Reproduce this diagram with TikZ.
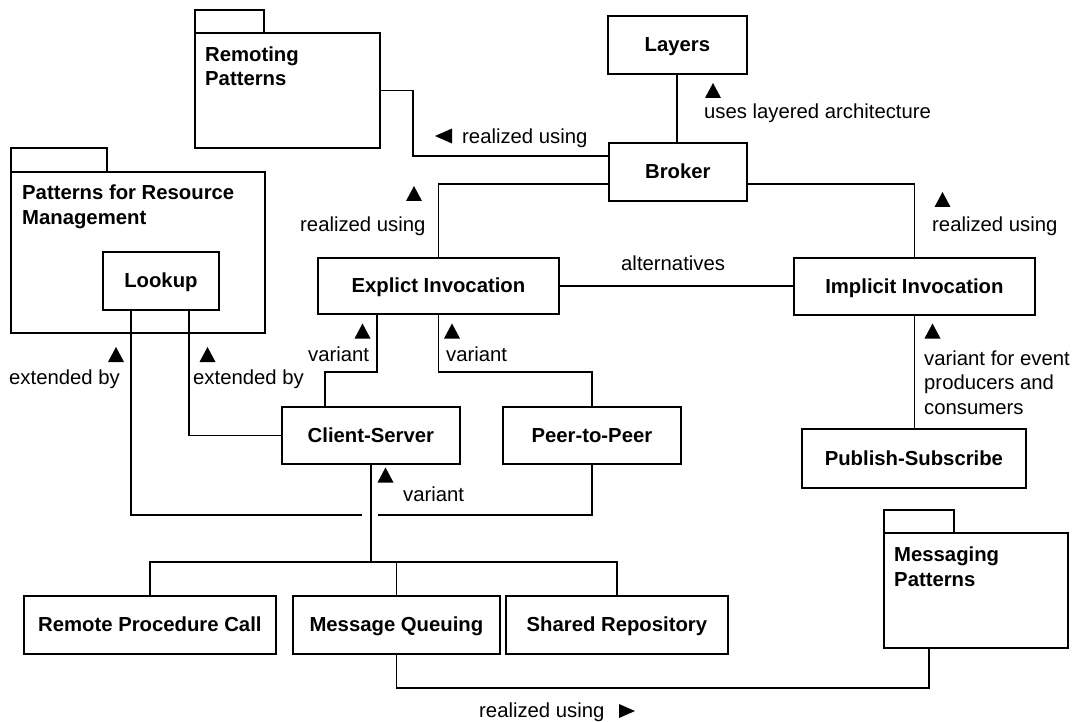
\documentclass[tikz,border=0pt]{standalone}
\usepackage{fontspec}
\setmainfont{Liberation Sans}
\newcommand\tup[2]{\fill (#1-8,#2+7.5) -- (#1+8,#2+7.5) -- (#1,#2-7.5) -- cycle;}
\newcommand\tleft[2]{\fill (#1-8.5,#2) -- (#1+8.5,#2-7.5) -- (#1+8.5,#2+7.5) -- cycle;}
\newcommand\tright[2]{\fill (#1+8,#2) -- (#1-8,#2-7) -- (#1-8,#2+7) -- cycle;}
\begin{document}
\begin{tikzpicture}[x=1pt,y=-1pt,
  box/.style={draw,line width=1.8pt,inner sep=0pt,anchor=north west,
    text height=14.6pt,text depth=1.4pt,
    font=\bfseries\fontsize{20.3}{24}\selectfont},
  pkg/.style={draw,line width=1.8pt,inner sep=0pt,anchor=north west},
  ptitle/.style={inner sep=0pt,anchor=base west,font=\bfseries\fontsize{20.3}{24}\selectfont},
  lbl/.style={inner sep=0pt,anchor=base west,font=\fontsize{20.3}{24}\selectfont},
  conn/.style={line width=1.4pt,line join=miter}]
\fill[white] (0,0) rectangle (1076,722);
\useasboundingbox (0,0) rectangle (1076,722);

% packages
\node[pkg,minimum width=69pt,minimum height=23pt] (remtab) at (194,9) {};
\node[pkg,minimum width=185pt,minimum height=115pt] (rem) at (194,32) {};
\node[ptitle] (remt1) at (205,61.6) {Remoting};
\node[ptitle] (remt2) at (205,86) {Patterns};

\node[pkg,minimum width=96pt,minimum height=24pt] (restab) at (10,147) {};
\node[pkg,minimum width=254pt,minimum height=161pt] (res) at (10,171) {};
\node[ptitle] (rest1) at (22,199.6) {Patterns for Resource};
\node[ptitle] (rest2) at (22,224.6) {Management};

\node[pkg,minimum width=70pt,minimum height=23pt] (msgtab) at (883,509) {};
\node[pkg,minimum width=184pt,minimum height=115pt] (msg) at (883,532) {};
\node[ptitle] (msgt1) at (894,561.6) {Messaging};
\node[ptitle] (msgt2) at (894,586) {Patterns};

% boxes
\node[box,minimum width=139pt,minimum height=58pt] (layers) at (607,15) {Layers};
\node[box,minimum width=138pt,minimum height=58pt] (broker) at (608,142) {Broker};
\node[box,minimum width=241pt,minimum height=56pt] (explicit) at (317,257) {Explict Invocation};
\node[box,minimum width=241pt,minimum height=57pt] (implicit) at (793,257) {Implicit Invocation};
\node[box,minimum width=224pt,minimum height=59pt] (pubsub) at (801,428) {Publish-Subscribe};
\node[box,minimum width=178pt,minimum height=57pt] (cs) at (281,406) {Client-Server};
\node[box,minimum width=178pt,minimum height=57pt] (peer) at (502,406) {Peer-to-Peer};
\node[box,minimum width=116pt,minimum height=58pt] (lookup) at (102,251) {Lookup};
\node[box,minimum width=252pt,minimum height=58pt] (rpc) at (23,595) {Remote Procedure Call};
\node[box,minimum width=207pt,minimum height=58pt] (mq) at (292,595) {Message Queuing};
\node[box,minimum width=222pt,minimum height=58pt] (sr) at (505,595) {Shared Repository};

% connectors
\draw[conn] (rem.east) -| (413,156) -- (broker.west |- 0,156);
\draw[conn] (layers.south -| 677,0) -- (broker.north -| 677,0);
\draw[conn] (broker.west |- 0,184) -| (explicit.north);
\draw[conn] (broker.east |- 0,184) -| (implicit.north);
\draw[conn] (explicit.east) -- (implicit.west |- explicit.east);
\draw[conn] (implicit.south) -- (implicit.south |- pubsub.north);
\draw[conn] (explicit.south -| 377,0) -- (377,372) -| (cs.north -| 325,0);
\draw[conn] (explicit.south) -- (explicit.south |- 0,372) -| (peer.north);
\draw[conn] (lookup.south -| 189,0) |- (cs.west);
\coordinate (gapL) at (362,515);
\coordinate (gapR) at (378,515);
\draw[conn] (lookup.south -| 131,0) |- (gapL);
\draw[conn] (gapR) -| (peer.south);
\draw[conn] (cs.south) -- (cs.south |- 0,562);
\draw[conn] (rpc.north) -- (rpc.north |- 0,562) -- (sr.north |- 0,562) -- (sr.north);
\draw[conn] (mq.north) -- (mq.north |- 0,562);
\draw[conn] (mq.south) |- (929,688) -- (msg.south -| 929,0);

% labels
\tleft{443.5}{136}
\node[lbl] (l1) at (462,144) {realized using};
\tup{713}{90.5}
\node[lbl] (l2) at (704,119) {uses layered architecture};
\tup{942.5}{199.5}
\node[lbl] (l3) at (932,231) {realized using};
\node[lbl] (l4) at (621,270) {alternatives};
\tup{932.5}{331}
\node[lbl] (l5a) at (924,365) {variant for event};
\node[lbl] (l5b) at (924,389.5) {producers and};
\node[lbl] (l5c) at (924,414) {consumers};
\tup{414}{193.5}
\node[lbl] (l6) at (300,231) {realized using};
\tup{116}{354.5}
\node[lbl] (l7) at (9,384) {extended by};
\tup{207.5}{354.5}
\node[lbl] (l8) at (193,384) {extended by};
\tup{362.5}{331}
\node[lbl] (l9) at (308,361) {variant};
\tup{452}{331}
\node[lbl] (l10) at (446,361) {variant};
\tup{385.5}{475}
\node[lbl] (l11) at (403,501) {variant};
\node[lbl] (l12) at (479,717) {realized using};
\tright{627}{711}
\end{tikzpicture}
\end{document}
